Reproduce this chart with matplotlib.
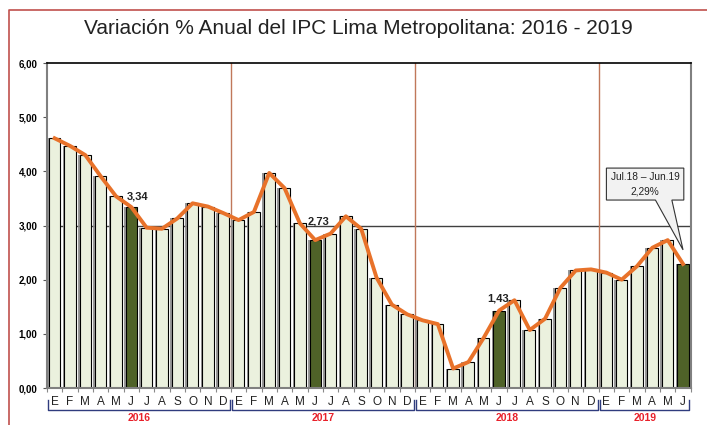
import matplotlib
matplotlib.use("Agg")
import matplotlib.pyplot as plt
from matplotlib.patches import Polygon
from matplotlib.lines import Line2D
import matplotlib.transforms as mtransforms

months = ["E", "F", "M", "A", "M", "J", "J", "A", "S", "O", "N", "D"]
years = ["2016", "2017", "2018", "2019"]
months_per_year = [12, 12, 12, 6]
values = [4.61, 4.47, 4.30, 3.91, 3.54, 3.34, 2.96, 2.94, 3.13, 3.41, 3.35, 3.23,
          3.10, 3.25, 3.97, 3.69, 3.04, 2.73, 2.85, 3.17, 2.94, 2.04, 1.54, 1.36,
          1.25, 1.18, 0.36, 0.48, 0.93, 1.43, 1.62, 1.07, 1.28, 1.85, 2.17, 2.19,
          2.13, 2.00, 2.25, 2.59, 2.73, 2.29]
highlight_labels = {5: "3,34", 17: "2,73", 29: "1,43"}
yticks = [0, 1, 2, 3, 4, 5, 6]
ytick_labels = ["0,00", "1,00", "2,00", "3,00", "4,00", "5,00", "6,00"]
title = "Variación % Anual del IPC Lima Metropolitana: 2016 - 2019"
callout_lines = ["Jul.18 – Jun.19", "2,29%"]

arial = ["Liberation Sans", "DejaVu Sans"]

fig = plt.figure(figsize=(7.07, 4.25), dpi=100)
fig.patch.set_facecolor("white")
ax = fig.add_axes([47/707, 1-388/425, (690.7-47)/707, (388-63)/425])

n = len(values)
x = list(range(n))
colors = ["#4F6228" if (i % 12 == 5) else "#EBF1DE" for i in range(n)]
ax.bar(x, values, width=0.74, color=colors, edgecolor="black", linewidth=0.8, zorder=2)
# shadow line on left of bars
for i, v in enumerate(values):
    ax.plot([i - 0.41, i - 0.41], [0, v], color="#8C8C8C", lw=1.3, zorder=1.9,
            solid_capstyle="butt")

ax.axhline(3.0, color="#404040", lw=1.0, zorder=1.5)

# year separators
starts = [0]
for m in months_per_year[:-1]:
    starts.append(starts[-1] + m)
for s in starts[1:]:
    ax.plot([s - 0.5, s - 0.5], [0, 6], color="#C0785A", lw=1.0, zorder=1.6)

ax.plot(x, values, color="#E8722A", lw=2.8, zorder=3, solid_joinstyle="round")

ax.set_xlim(-0.5, n - 0.5)
ax.set_ylim(0, 6)
ax.set_yticks(yticks)
ax.set_yticklabels(ytick_labels, fontsize=7, fontweight="bold", family=arial)
ax.tick_params(axis="y", length=3, width=0.8, pad=4, color="#555555")
ax.set_xticks([i - 0.5 for i in range(n + 1)])
ax.set_xticklabels([])
ax.tick_params(axis="x", length=3, width=0.8, color="#888888")
for sp in ["left", "right", "bottom"]:
    ax.spines[sp].set_color("#808080")
    ax.spines[sp].set_linewidth(1.5)
ax.spines["top"].set_color("black")
ax.spines["top"].set_linewidth(1.2)

trans = mtransforms.blended_transform_factory(ax.transData, ax.transAxes)
for i in range(n):
    ax.text(i, -0.043, months[i % 12], transform=trans, ha="center", va="center",
            fontsize=8.5, family=arial, color="#222222")
for s, m, yr in zip(starts, months_per_year, years):
    x0, x1 = s - 0.42, s + m - 0.58
    ax.add_line(Line2D([x0, x0, x1, x1], [-0.037, -0.068, -0.068, -0.037], transform=trans,
                       color="#2F3C7E", lw=1.0, clip_on=False))
    ax.text((x0 + x1) / 2, -0.092, yr, transform=trans, ha="center", va="center",
            fontsize=7.5, fontweight="bold", color="#E8202A", family=arial)

ax.text(5.4, 3.45, highlight_labels[5], ha="center", va="bottom", fontsize=8,
        fontweight="bold", family=arial, color="#222222", zorder=4)
ax.text(17.2, 3.08, highlight_labels[17], ha="center", va="center", fontsize=8,
        fontweight="bold", family=arial, color="#222222", zorder=4)
ax.text(28.9, 1.66, highlight_labels[29], ha="center", va="center", fontsize=8,
        fontweight="bold", family=arial, color="#222222", zorder=4)

# callout
bx0, bx1, by0, by1 = 36.0, 41.05, 3.47, 4.06
poly = Polygon([(bx0, by1), (bx1, by1), (bx1, by0), (40.27, by0), (41.0, 2.55),
                (39.2, by0), (bx0, by0)], closed=True, facecolor="#F2F2F2",
               edgecolor="#333333", lw=0.8, zorder=5, clip_on=False)
ax.add_patch(poly)
ax.text((bx0 + bx1) / 2, 3.9, callout_lines[0], ha="center", va="center", fontsize=7.3,
        family=arial, color="#222222", zorder=6)
ax.text((bx0 + bx1) / 2, 3.63, callout_lines[1], ha="center", va="center", fontsize=7.3,
        family=arial, color="#222222", zorder=6)

fig.text(358/707, 1-29/425, title, ha="center", va="center", fontsize=15,
         family=arial, color="#222222")

# outer red frame (top and left)
fig.add_artist(Line2D([9/707, 9/707, 1.0], [0.0, 1-10/425, 1-10/425],
                      transform=fig.transFigure, color="#C0504D", lw=1.2))

fig.savefig("out.png", dpi=100)
